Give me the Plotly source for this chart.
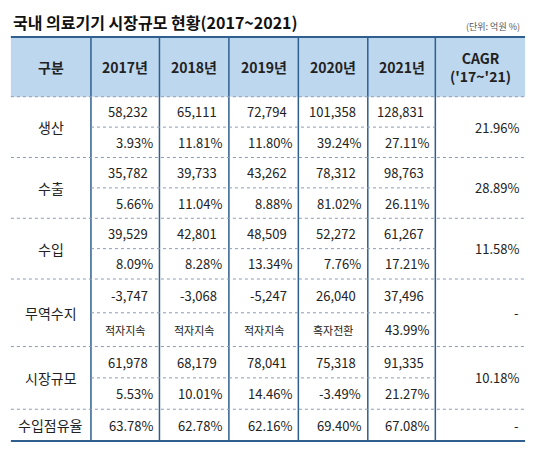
import plotly.graph_objects as go

title = "국내 의료기기 시장규모 현황(2017~2021)"
unit = "(단위: 억원 %)"
headers = ["구분", "2017년", "2018년", "2019년", "2020년", "2021년", "CAGR<br>('17~'21)"]
categories = ["생산", "수출", "수입", "무역수지", "시장규모"]
values = [
    ["58,232", "65,111", "72,794", "101,358", "128,831"],
    ["35,782", "39,733", "43,262", "78,312", "98,763"],
    ["39,529", "42,801", "48,509", "52,272", "61,267"],
    ["-3,747", "-3,068", "-5,247", "26,040", "37,496"],
    ["61,978", "68,179", "78,041", "75,318", "91,335"],
]
growth = [
    ["3.93%", "11.81%", "11.80%", "39.24%", "27.11%"],
    ["5.66%", "11.04%", "8.88%", "81.02%", "26.11%"],
    ["8.09%", "8.28%", "13.34%", "7.76%", "17.21%"],
    ["적자지속", "적자지속", "적자지속", "흑자전환", "43.99%"],
    ["5.53%", "10.01%", "14.46%", "-3.49%", "21.27%"],
]
cagr = ["21.96%", "28.89%", "11.58%", "-", "10.18%"]
share_label = "수입점유율"
share = ["63.78%", "62.78%", "62.16%", "69.40%", "67.08%"]
share_cagr = "-"

W, H = 537, 451
font = "Noto Sans CJK KR"
xs = [3, 86, 157, 229, 301, 373, 443, 536]
top, hdr_bot = 30, 92
groups = [(92, 155), (155, 218), (218, 281), (281, 351), (351, 416)]
bottom = 449
line_blue = "#2E5F8F"
dot = "#8C9BB0"

fig = go.Figure()
shapes, ann = [], []
shapes.append(dict(type="rect", x0=xs[0], x1=xs[-1], y0=top, y1=hdr_bot, fillcolor="#BDD7EE", line_width=0, layer="below"))
for x in xs[1:-1]:
    shapes.append(dict(type="line", x0=x, x1=x, y0=top, y1=bottom, line=dict(color=line_blue, width=1.5)))
shapes.append(dict(type="line", x0=xs[0], x1=xs[-1], y0=top, y1=top, line=dict(color=line_blue, width=2)))
shapes.append(dict(type="line", x0=xs[0], x1=xs[-1], y0=bottom, y1=bottom, line=dict(color=line_blue, width=2)))
shapes.append(dict(type="line", x0=xs[0], x1=xs[-1], y0=hdr_bot, y1=hdr_bot, line=dict(color=dot, width=1, dash="dot")))

def t(x, y, s, xa="center", size=13, bold=False, color="#222"):
    ann.append(dict(x=x, y=y, text=f"<b>{s}</b>" if bold else s, showarrow=False, xanchor=xa, yanchor="middle",
                    font=dict(family=font, size=size, color=color)))

ann.append(dict(x=3, y=15, text="<b>" + title + "</b>", showarrow=False, xanchor="left", yanchor="middle",
                font=dict(family=font, size=16, color="#111")))
ann.append(dict(x=533, y=19, text=unit, showarrow=False, xanchor="right", yanchor="middle",
                font=dict(family=font, size=9, color="#555")))
for i, h in enumerate(headers):
    t((xs[i] + xs[i + 1]) / 2, (top + hdr_bot) / 2, h, size=14, bold=True)

for g, (y0, y1) in enumerate(groups):
    mid = (y0 + y1) / 2
    shapes.append(dict(type="line", x0=xs[0], x1=xs[-1], y0=y1, y1=y1, line=dict(color=dot, width=1, dash="dot")))
    shapes.append(dict(type="line", x0=xs[1], x1=xs[6], y0=mid, y1=mid, line=dict(color=dot, width=1, dash="dot")))
    t((xs[0] + xs[1]) / 2, mid, categories[g], size=14)
    t(xs[7] - 4, mid, cagr[g], xa="right")
    for c in range(5):
        t(xs[c + 2] - 10, (y0 + mid) / 2, values[g][c], xa="right")
        s = growth[g][c]
        if s.endswith("%"):
            t(xs[c + 2] - 5, (mid + y1) / 2, s, xa="right")
        else:
            t((xs[c + 1] + xs[c + 2]) / 2, (mid + y1) / 2, s, size=11)

ym = (groups[-1][1] + bottom) / 2
t((xs[0] + xs[1]) / 2, ym, share_label, size=14)
for c in range(5):
    t(xs[c + 2] - 5, ym, share[c], xa="right")
t(xs[7] - 4, ym, share_cagr, xa="right")

fig.update_layout(width=518, height=435, margin=dict(l=0, r=0, t=0, b=0), paper_bgcolor="white", plot_bgcolor="white",
                  shapes=shapes, annotations=ann,
                  xaxis=dict(range=[0, W], visible=False, fixedrange=True),
                  yaxis=dict(range=[H, 0], visible=False, fixedrange=True), showlegend=False)
fig.write_html("out.html", config=dict(displayModeBar=False))
